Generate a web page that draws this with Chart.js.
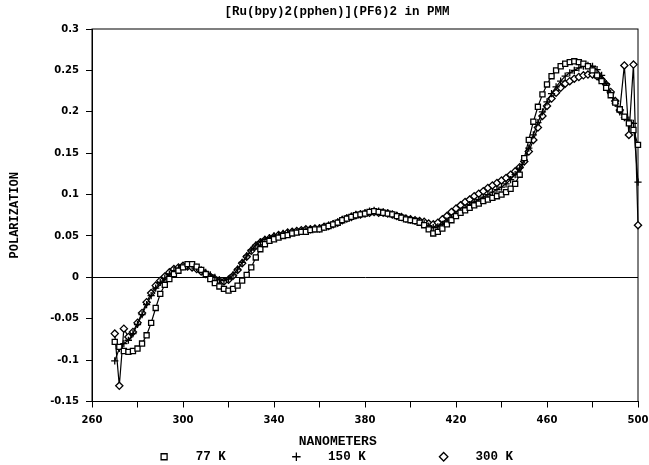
<!DOCTYPE html>
<html>
<head>
<meta charset="utf-8">
<script src="https://cdn.jsdelivr.net/npm/chart.js@4.4.1/dist/chart.umd.min.js"></script>
<style>
  body { margin: 0; background: #fff; }
  canvas { display: block; }
</style>
</head>
<body>
<canvas id="polChart" width="649" height="465"></canvas>
<script>
// wavelength (nm) of each reading
const wavelengths = [
  270, 272, 274, 276, 278, 280, 282, 284, 286, 288, 290, 292, 294, 296, 298, 300,
  302, 304, 306, 308, 310, 312, 314, 316, 318, 320, 322, 324, 326, 328, 330, 332,
  334, 336, 338, 340, 342, 344, 346, 348, 350, 352, 354, 356, 358, 360, 362, 364,
  366, 368, 370, 372, 374, 376, 378, 380, 382, 384, 386, 388, 390, 392, 394, 396,
  398, 400, 402, 404, 406, 408, 410, 412, 414, 416, 418, 420, 422, 424, 426, 428,
  430, 432, 434, 436, 438, 440, 442, 444, 446, 448, 450, 452, 454, 456, 458, 460,
  462, 464, 466, 468, 470, 472, 474, 476, 478, 480, 482, 484, 486, 488, 490, 492,
  494, 496, 498, 500
];

const pol77 = [
  -0.078, -0.084, -0.089, -0.090, -0.089, -0.086, -0.080, -0.070, -0.055, -0.037, -0.020, -0.009, -0.002, 0.004, 0.008, 0.012,
  0.016, 0.016, 0.013, 0.009, 0.004, -0.002, -0.007, -0.011, -0.014, -0.016, -0.014, -0.010, -0.004, 0.003, 0.012, 0.024,
  0.034, 0.040, 0.044, 0.046, 0.048, 0.050, 0.051, 0.053, 0.054, 0.055, 0.055, 0.057, 0.058, 0.058, 0.060, 0.062,
  0.064, 0.066, 0.069, 0.071, 0.073, 0.075, 0.076, 0.077, 0.079, 0.080, 0.079, 0.078, 0.077, 0.076, 0.074, 0.072,
  0.070, 0.069, 0.068, 0.066, 0.063, 0.058, 0.053, 0.055, 0.059, 0.064, 0.069, 0.074, 0.078, 0.081, 0.084, 0.087,
  0.089, 0.092, 0.094, 0.096, 0.098, 0.100, 0.103, 0.107, 0.113, 0.124, 0.144, 0.166, 0.188, 0.206, 0.221, 0.233,
  0.243, 0.250, 0.255, 0.258, 0.260, 0.261, 0.260, 0.258, 0.255, 0.250, 0.244, 0.237, 0.229, 0.220, 0.211, 0.203,
  0.194, 0.186, 0.178, 0.160
];

const pol150 = [
  -0.101, -0.086, -0.080, -0.076, -0.068, -0.057, -0.045, -0.033, -0.022, -0.013, -0.006, -0.001, 0.004, 0.008, 0.011, 0.013,
  0.014, 0.014, 0.012, 0.009, 0.006, 0.003, 0.000, -0.003, -0.004, -0.002, 0.003, 0.010, 0.018, 0.026, 0.033, 0.039,
  0.043, 0.046, 0.048, 0.050, 0.051, 0.053, 0.054, 0.055, 0.055, 0.056, 0.057, 0.058, 0.059, 0.060, 0.061, 0.063,
  0.065, 0.067, 0.070, 0.072, 0.074, 0.076, 0.077, 0.078, 0.080, 0.081, 0.080, 0.079, 0.078, 0.076, 0.075, 0.073,
  0.071, 0.070, 0.068, 0.067, 0.065, 0.062, 0.060, 0.061, 0.064, 0.068, 0.072, 0.076, 0.080, 0.084, 0.088, 0.091,
  0.094, 0.097, 0.100, 0.103, 0.106, 0.109, 0.113, 0.118, 0.124, 0.132, 0.142, 0.156, 0.172, 0.187, 0.200, 0.212,
  0.222, 0.230, 0.237, 0.243, 0.247, 0.250, 0.253, 0.255, 0.256, 0.255, 0.251, 0.244, 0.234, 0.222, 0.210, 0.200,
  0.193, 0.190, 0.186, 0.115
];

const pol300 = [
  -0.068, -0.131, -0.062, -0.072, -0.066, -0.055, -0.043, -0.030, -0.019, -0.010, -0.004, 0.001, 0.006, 0.010, 0.012, 0.014,
  0.013, 0.012, 0.010, 0.007, 0.004, 0.001, -0.002, -0.004, -0.005, -0.003, 0.002, 0.009, 0.017, 0.025, 0.032, 0.038,
  0.042, 0.045, 0.047, 0.049, 0.051, 0.052, 0.054, 0.055, 0.056, 0.057, 0.058, 0.058, 0.059, 0.059, 0.061, 0.062,
  0.064, 0.066, 0.069, 0.071, 0.073, 0.075, 0.076, 0.077, 0.078, 0.079, 0.078, 0.078, 0.077, 0.076, 0.074, 0.073,
  0.071, 0.070, 0.069, 0.068, 0.067, 0.065, 0.064, 0.066, 0.070, 0.074, 0.079, 0.083, 0.087, 0.091, 0.094, 0.098,
  0.101, 0.104, 0.108, 0.111, 0.114, 0.117, 0.120, 0.124, 0.128, 0.133, 0.140, 0.152, 0.166, 0.181, 0.195, 0.207,
  0.216, 0.223, 0.229, 0.234, 0.237, 0.240, 0.242, 0.244, 0.245, 0.245, 0.243, 0.239, 0.233, 0.224, 0.213, 0.202,
  0.256, 0.172, 0.257, 0.063
];

const xTickLabels = [260, 300, 340, 380, 420, 460, 500];
const seriesNames = ['77 K', '150 K', '300 K'];
// spaces set the gaps of the old plotter legend
const legendTexts = ['   77 K         ', '   150 K          ', '   300 K'];

function toPoints(values) {
  return wavelengths.map((nm, i) => ({ x: nm, y: values[i] }));
}

function series(label, values, style) {
  return {
    label: label,
    data: toPoints(values),
    showLine: true,
    borderColor: '#000',
    borderWidth: 1.2,
    backgroundColor: '#fff',
    pointStyle: style,
    pointRadius: 3.6,
    pointBorderWidth: 1.3,
    pointBorderColor: '#000',
    pointBackgroundColor: '#fff',
    clip: false
  };
}

// box round the plot area
const frame = {
  id: 'frame',
  beforeDatasetsDraw(chart) {
    const { ctx, chartArea: a } = chart;
    ctx.save();
    ctx.strokeStyle = '#000';
    ctx.lineWidth = 1;
    ctx.strokeRect(a.left, a.top, a.right - a.left, a.bottom - a.top);
    ctx.restore();
  }
};

const tickFont = { family: 'DejaVu Sans', weight: 'bold', size: 10 };
const monoFont = { family: 'Liberation Mono', weight: 'bold', size: 13 };

const ctx = document.getElementById('polChart').getContext('2d');
const polChart = new Chart(ctx, {
  type: 'scatter',
  data: {
    datasets: [
      series(seriesNames[0], pol77, 'rect'),
      series(seriesNames[1], pol150, 'cross'),
      series(seriesNames[2], pol300, 'rectRot')
    ]
  },
  options: {
    responsive: false,
    animation: false,
    events: [],
    layout: { padding: { left: 36, right: 11, top: 0, bottom: -8 } },
    scales: {
      x: {
        type: 'linear',
        min: 260,
        max: 500,
        afterFit: s => { s.height = 49; s.paddingLeft = 0; s.paddingRight = 0; },
        ticks: {
          stepSize: 20,
          autoSkip: false,
          maxRotation: 0,
          padding: 7,
          color: '#000',
          font: tickFont,
          callback: v => xTickLabels.includes(v) ? String(v) : ''
        },
        grid: { drawOnChartArea: false, tickLength: 6, tickColor: '#000' },
        border: { color: '#000', width: 1 },
        title: {
          display: true,
          text: 'NANOMETERS       ',
          color: '#000',
          font: monoFont,
          padding: { top: 7, bottom: 1 }
        }
      },
      y: {
        min: -0.15,
        max: 0.3,
        afterFit: s => { s.width = 56; },
        ticks: {
          stepSize: 0.05,
          padding: 7,
          color: '#000',
          font: tickFont,
          callback: v => String(Number(v.toFixed(2)))
        },
        grid: {
          color: c => (c.tick && c.tick.value === 0) ? '#000' : 'rgba(0,0,0,0)',
          lineWidth: 1,
          tickLength: 6,
          tickColor: '#000'
        },
        border: { color: '#000', width: 1 },
        title: {
          display: true,
          text: 'POLARIZATION',
          color: '#000',
          font: { family: 'Liberation Mono', weight: 'bold', size: 12 },
          padding: { top: -28, bottom: 0 }
        }
      }
    },
    plugins: {
      title: {
        display: true,
        text: '[Ru(bpy)2(pphen)](PF6)2 in PMM',
        color: '#000',
        font: { family: 'Liberation Mono', weight: 'bold', size: 12.5 },
        padding: { top: 4, bottom: 10 }
      },
      legend: {
        position: 'bottom',
        labels: {
          usePointStyle: true,
          boxWidth: 6,
          boxHeight: 6,
          padding: 0,
          color: '#000',
          font: { family: 'Liberation Mono', weight: 'bold', size: 12.5 },
          generateLabels(chart) {
            const items = Chart.defaults.plugins.legend.labels.generateLabels(chart);
            items.forEach((item, i) => { item.text = legendTexts[i]; });
            return items;
          }
        }
      },
      tooltip: { enabled: false }
    }
  },
  plugins: [frame]
});
</script>
</body>
</html>
